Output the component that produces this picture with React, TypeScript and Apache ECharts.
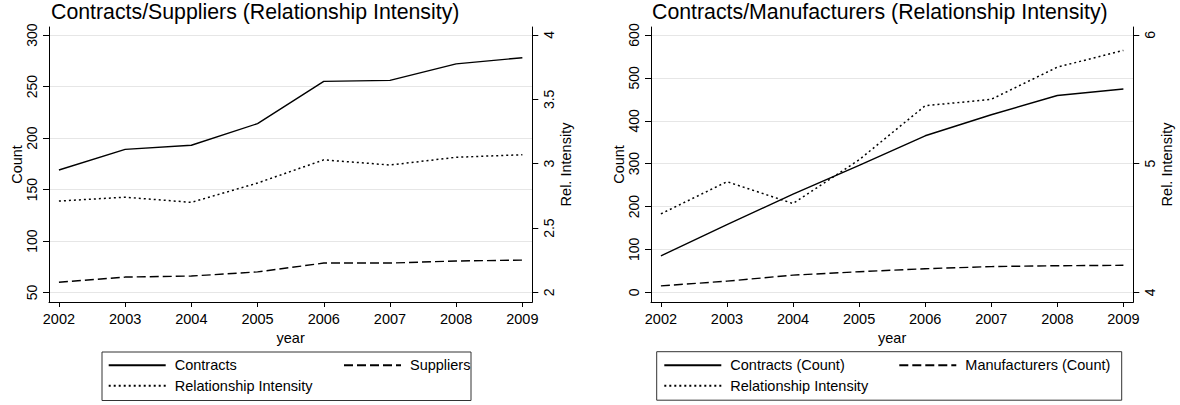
import React, { useEffect, useRef } from "react";
import * as echarts from "echarts";

// Yearly observations
const years = [2002, 2003, 2004, 2005, 2006, 2007, 2008, 2009];

// Contracts / Suppliers panel
const supplierContracts = [169, 189, 193, 214, 255, 256, 272, 278];
const supplierCounts = [60, 65, 66, 70, 78.6, 78.6, 80.6, 81.5];
const supplierIntensity = [2.71, 2.74, 2.7, 2.85, 3.03, 2.99, 3.05, 3.07];

// Contracts / Manufacturers panel
const manufacturerContracts = [85, 158, 229, 296, 365, 414, 459, 474];
const manufacturerCounts = [15, 26, 40, 48, 55, 60, 62, 63];
const manufacturerIntensity = [4.61, 4.86, 4.69, 5.03, 5.45, 5.5, 5.75, 5.88];

// Tick labels
const supplierCountTicks = [50, 100, 150, 200, 250, 300];
const supplierIntensityTicks = [2, 2.5, 3, 3.5, 4];
const manufacturerCountTicks = [0, 100, 200, 300, 400, 500, 600];
const manufacturerIntensityTicks = [4, 5, 6];

const FONT = "'Liberation Sans', Arial, Helvetica, sans-serif";
const INK = "#000";

const solid = { color: INK, width: 1.4, type: "solid" };
const dashed = { color: INK, width: 1.4, type: [9, 4] };
const dotted = { color: INK, width: 1.5, type: [2, 3] };

const pairs = (vals: number[]) => years.map((y, i) => [y, vals[i]]);

const xAxisFor = (gridIndex: number) => ({
  type: "value",
  gridIndex,
  min: 2001.85,
  max: 2009.15,
  name: "year",
  nameLocation: "middle",
  nameGap: 25,
  nameTextStyle: { fontSize: 14.5, color: INK, fontFamily: FONT },
  axisLine: { show: true, onZero: false, lineStyle: { color: INK, width: 1 } },
  axisTick: { show: true, length: 5, customValues: years, lineStyle: { color: INK } },
  axisLabel: {
    customValues: years,
    fontSize: 14.5,
    color: INK,
    margin: 9,
    fontFamily: FONT,
    formatter: (v: number) => String(v),
  },
  splitLine: { show: false },
});

const yAxisFor = (
  gridIndex: number,
  position: "left" | "right",
  name: string,
  min: number,
  max: number,
  ticks: number[],
  grid: boolean
) => ({
  type: "value",
  gridIndex,
  position,
  min,
  max,
  name,
  nameLocation: "middle",
  nameGap: position === "left" ? 24 : 26,
  nameTextStyle: { fontSize: 14.5, color: INK, fontFamily: FONT },
  axisLine: { show: true, onZero: false, lineStyle: { color: INK, width: 1 } },
  axisTick: { show: true, length: 6, customValues: ticks, lineStyle: { color: INK } },
  axisLabel: {
    customValues: ticks,
    rotate: 90,
    fontSize: 14,
    color: INK,
    margin: 10,
    fontFamily: FONT,
    formatter: (v: number) => String(v),
  },
  splitLine: { show: grid, lineStyle: { color: "#e6e6e6", width: 1 } },
});

const legendFor = (left: number, names: string[]) => ({
  left,
  top: 357.7,
  orient: "vertical",
  data: names,
  itemWidth: 57,
  itemHeight: 16,
  itemGap: 5.6,
  padding: 0,
  selectedMode: false,
  z: 5,
  itemStyle: { opacity: 0 },
  textStyle: { fontSize: 14.5, color: INK, fontFamily: FONT, padding: [0, 0, 0, 4] },
});

const lineSeries = (
  name: string,
  xAxisIndex: number,
  yAxisIndex: number,
  values: number[],
  lineStyle: object
) => ({
  name,
  type: "line",
  xAxisIndex,
  yAxisIndex,
  data: pairs(values),
  symbol: "none",
  showSymbol: false,
  itemStyle: { color: INK },
  lineStyle,
});

export default function App() {
  const ref = useRef<HTMLDivElement>(null);

  useEffect(() => {
    document.body.style.margin = "0";
    if (!ref.current) return;
    const chart = echarts.init(ref.current, undefined, { renderer: "svg" });
    chart.setOption({
      animation: false,
      backgroundColor: "#fff",
      title: [
        {
          text: "Contracts/Suppliers (Relationship Intensity)",
          left: 51,
          top: 1,
          padding: 0,
          textStyle: { fontSize: 21.3, fontWeight: "normal", color: INK, fontFamily: FONT },
        },
        {
          text: "Contracts/Manufacturers (Relationship Intensity)",
          left: 652,
          top: 1,
          padding: 0,
          textStyle: { fontSize: 21.3, fontWeight: "normal", color: INK, fontFamily: FONT },
        },
      ],
      grid: [
        { left: 49, right: 647.7, top: 27, height: 275, containLabel: false },
        { left: 651, right: 46.7, top: 27, height: 275, containLabel: false },
      ],
      xAxis: [xAxisFor(0), xAxisFor(1)],
      yAxis: [
        yAxisFor(0, "left", "Count", 40.8, 307.8, supplierCountTicks, true),
        yAxisFor(0, "right", "Rel. Intensity", 1.926, 4.062, supplierIntensityTicks, false),
        yAxisFor(1, "left", "Count", -22.6, 618.7, manufacturerCountTicks, true),
        yAxisFor(1, "right", "Rel. Intensity", 3.925, 6.062, manufacturerIntensityTicks, false),
      ],
      legend: [
        legendFor(107.7, ["Contracts", "Relationship Intensity"]),
        legendFor(343, ["Suppliers"]),
        legendFor(663.3, ["Contracts (Count)", "Relationship Intensity"]),
        legendFor(898.3, ["Manufacturers (Count)"]),
      ],
      graphic: [
        {
          type: "rect",
          z: 1,
          shape: { x: 102, y: 352, width: 369, height: 48.5 },
          style: { fill: "#fff", stroke: "#333", lineWidth: 1 },
        },
        {
          type: "rect",
          z: 1,
          shape: { x: 656.7, y: 351.7, width: 465, height: 48.5 },
          style: { fill: "#fff", stroke: "#333", lineWidth: 1 },
        },
      ],
      series: [
        lineSeries("Contracts", 0, 0, supplierContracts, solid),
        lineSeries("Suppliers", 0, 0, supplierCounts, dashed),
        lineSeries("Relationship Intensity", 0, 1, supplierIntensity, dotted),
        lineSeries("Contracts (Count)", 1, 2, manufacturerContracts, solid),
        lineSeries("Manufacturers (Count)", 1, 2, manufacturerCounts, dashed),
        lineSeries("Relationship Intensity", 1, 3, manufacturerIntensity, dotted),
      ],
    });
    return () => chart.dispose();
  }, []);

  return (
    <div
      ref={ref}
      style={{ position: "absolute", left: 0, top: 0, width: 1180, height: 405, background: "#fff" }}
    />
  );
}
